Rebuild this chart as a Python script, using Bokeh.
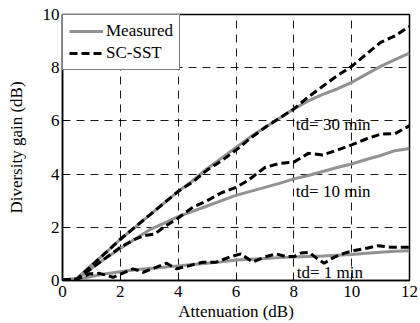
from bokeh.plotting import figure
from bokeh.models import Range1d, Legend, LegendItem, FixedTicker
from bokeh.core.properties import value
from bokeh.embed import file_html
from bokeh.resources import INLINE

# ---- data ----
x_half = [0, 0.5, 1, 1.5, 2, 2.5, 3, 3.5, 4, 4.5, 5, 5.5, 6, 6.5, 7, 7.5, 8,
          8.5, 9, 9.5, 10, 10.5, 11, 11.5, 12]
meas_30 = [0.03, 0.08, 0.58, 1.05, 1.55, 2.0, 2.45, 2.9, 3.35, 3.75, 4.2, 4.6, 5.0,
           5.4, 5.75, 6.1, 6.45, 6.75, 7.0, 7.2, 7.45, 7.75, 8.05, 8.3, 8.55]
sc_30 = [0.03, 0.05, 0.55, 1.05, 1.55, 2.0, 2.45, 2.9, 3.35, 3.7, 4.15, 4.5, 4.9,
         5.35, 5.75, 6.1, 6.45, 6.9, 7.3, 7.7, 8.05, 8.5, 8.95, 9.2, 9.55]
meas_10 = [0.03, 0.05, 0.45, 0.85, 1.2, 1.55, 1.9, 2.15, 2.4, 2.6, 2.8, 3.0, 3.2,
           3.35, 3.5, 3.65, 3.82, 3.95, 4.1, 4.25, 4.38, 4.55, 4.7, 4.88, 4.96]
x_sc10 = [0, 0.5, 1, 1.5, 2, 2.5, 2.8, 3.2, 3.5, 4, 4.5, 5, 5.5, 6, 6.4, 7, 7.5,
          8, 8.5, 9, 9.5, 10, 10.5, 11, 11.5, 12]
sc_10 = [0.03, 0.05, 0.45, 0.85, 1.25, 1.55, 1.68, 1.75, 2.0, 2.35, 2.75, 3.0, 3.3,
         3.5, 3.75, 4.25, 4.4, 4.45, 4.78, 4.72, 4.9, 5.1, 5.32, 5.5, 5.52, 5.82]
meas_1 = [0.03, 0.05, 0.15, 0.25, 0.33, 0.4, 0.45, 0.5, 0.55, 0.6, 0.65, 0.7, 0.77,
          0.8, 0.83, 0.86, 0.88, 0.9, 0.92, 0.95, 0.98, 1.02, 1.06, 1.1, 1.12]
x_sc1 = [0, 0.47, 0.93, 1.28, 1.75, 2.03, 2.44, 2.79, 3.25, 3.6, 3.94, 4.4, 4.86,
         5.32, 5.78, 6.17, 6.58, 6.98, 7.38, 7.72, 8.01, 8.25, 8.53, 8.82, 9.05,
         9.4, 9.75, 10.1, 10.56, 10.9, 11.37, 12]
sc_1 = [0.03, 0.03, 0.25, 0.27, 0.12, 0.25, 0.44, 0.31, 0.5, 0.65, 0.44, 0.56, 0.69,
        0.69, 0.88, 1.0, 0.69, 0.88, 1.0, 0.9, 0.9, 1.03, 1.06, 0.81, 0.65, 0.88,
        1.03, 1.13, 1.22, 1.31, 1.25, 1.25]

label_texts = ["td= 30 min", "td= 10 min", "td= 1 min"]
label_x = [8.07, 8.07, 8.1]
label_y = [5.85, 3.35, 0.3]

x_ticks = [0, 2, 4, 6, 8, 10, 12]
y_ticks = [0, 2, 4, 6, 8, 10]

FONT = "'Liberation Serif', 'Times New Roman', serif"
GRAY = "#929292"

p = figure(width=420, height=323, output_backend="svg", toolbar_location=None,
           x_range=Range1d(0, 12), y_range=Range1d(0, 10),
           min_border_left=62, min_border_right=11, min_border_top=14,
           min_border_bottom=43)

p.outline_line_color = "black"
p.outline_line_width = 1.5
p.background_fill_color = "white"
p.border_fill_color = "white"

for ax, ticks in ((p.xaxis[0], x_ticks), (p.yaxis[0], y_ticks)):
    ax.ticker = FixedTicker(ticks=ticks)
    ax.major_tick_in = 5
    ax.major_tick_out = 0
    ax.minor_tick_line_color = None
    ax.axis_line_color = "black"
    ax.axis_line_width = 1.5
    ax.major_tick_line_color = "black"
    ax.major_label_text_font = FONT
    ax.major_label_text_font_size = "17px"
    ax.major_label_text_color = "black"
    ax.axis_label_text_font = FONT
    ax.axis_label_text_font_size = "17px"
    ax.axis_label_text_font_style = "normal"
    ax.axis_label_text_color = "black"

p.xaxis.axis_label = "Attenuation (dB)"
p.yaxis.axis_label = "Diversity gain (dB)"
p.xaxis.major_label_standoff = 5
p.xaxis.axis_label_standoff = 2
p.yaxis.major_label_standoff = 3
p.yaxis.axis_label_standoff = 14

for g in (p.xgrid[0], p.ygrid[0]):
    g.grid_line_color = "black"
    g.grid_line_width = 1
    g.grid_line_dash = "8 6"
    g.grid_line_alpha = 0.9

r_m30 = p.line(x_half, meas_30, line_color=GRAY, line_width=3)
p.line(x_half, meas_10, line_color=GRAY, line_width=3)
p.line(x_half, meas_1, line_color=GRAY, line_width=3)
r_s30 = p.line(x_half, sc_30, line_color="black", line_width=3, line_dash="8 4")
p.line(x_sc10, sc_10, line_color="black", line_width=3, line_dash="8 4")
p.line(x_sc1, sc_1, line_color="black", line_width=3, line_dash="8 4")

p.text(x=label_x, y=label_y, text=label_texts, text_font=value(FONT),
       text_font_size="17px", text_baseline="middle", text_align="left",
       text_color="black")

legend = Legend(items=[LegendItem(label="Measured", renderers=[r_m30]),
                       LegendItem(label="SC-SST", renderers=[r_s30])],
                location="top_left", margin=0, padding=6, spacing=2,
                glyph_width=34, glyph_height=20, label_height=20,
                label_standoff=3, border_line_color="black",
                border_line_width=1.5, background_fill_color="white",
                background_fill_alpha=1.0,
                label_text_font=FONT, label_text_font_size="17px",
                label_text_color="black")
p.add_layout(legend)

open("out.html", "w").write(file_html(p, INLINE))
